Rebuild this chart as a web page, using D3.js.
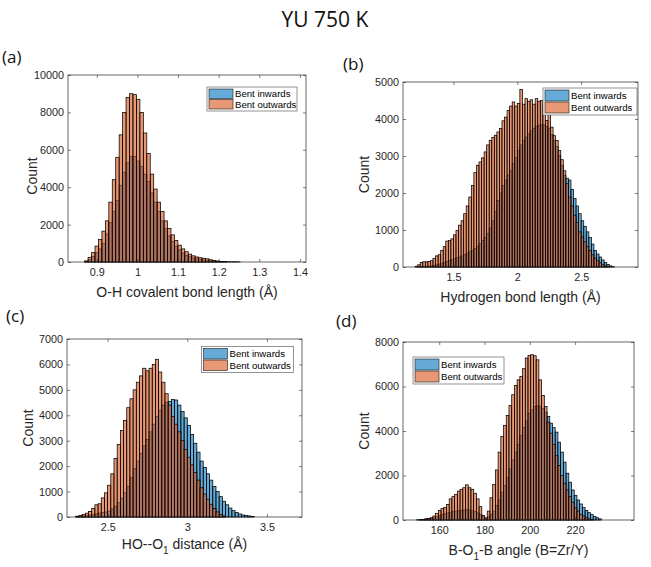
<!DOCTYPE html>
<html><head><meta charset="utf-8">
<script src="https://cdn.jsdelivr.net/npm/d3@7"></script>
<style>html,body{margin:0;padding:0;background:#fff}svg{display:block}</style>
</head><body>
<svg id="chart" width="651" height="567"></svg>
<script>
// ---------------- DATA ----------------
const seriesNames = ["Bent inwards", "Bent outwards"];
const chartTitle = "YU 750 K";

// (a) O-H covalent bond length
const aBinStart = 0.87, aBinWidth = 0.0085;
const aInwards = [30,120,300,500,700,1000,1500,2100,2700,3300,4100,4800,5300,5650,5650,5400,5100,4700,4300,3700,3200,2700,2200,1800,1400,1100,850,650,480,360,280,220,170,140,110,90,70,50,40,30,25,20,15,15,10];
const aOutwards = [60,250,500,850,1200,1650,2200,3200,4400,5600,6800,8000,8800,9000,8950,8700,8000,6900,5800,4700,3900,3200,2700,2200,1800,1450,1150,900,700,550,420,330,270,230,200,170,120,80,50,30,20];
const aXTicks = [0.9,1,1.1,1.2,1.3,1.4];
const aYTicks = [0,2000,4000,6000,8000,10000];

// (b) Hydrogen bond length
const bBinStart = 1.20, bBinWidth = 0.02;
const bInwards = [0,5,10,10,15,20,30,40,60,80,100,120,150,180,200,230,250,270,300,340,380,420,450,500,560,630,720,800,900,1050,1250,1500,1800,2000,2200,2350,2480,2600,2800,2950,3150,3300,3420,3510,3600,3680,3750,3800,3830,3850,3840,3800,3740,3580,3420,3250,3020,2750,2480,2400,2350,2100,1850,1650,1440,1250,1100,950,800,620,450,350,270,190,120,70,30,10];
const bOutwards = [20,60,120,140,140,150,170,230,300,330,450,550,700,720,760,870,990,1130,1250,1440,1650,1890,2200,2550,2750,2840,2950,3110,3300,3420,3500,3560,3650,3740,3950,4050,4230,4350,4460,4350,4420,4800,4400,4550,4480,4520,4400,4550,4480,4500,4370,3960,4150,3780,3550,3420,3150,2900,2600,2250,1890,1650,1400,1200,950,810,680,550,450,330,240,170,110,60,30,10];
const bXTicks = [1.5,2,2.5];
const bYTicks = [0,1000,2000,3000,4000,5000];

// (c) HO--O1 distance
const cBinStart = 2.30, cBinWidth = 0.02;
const cInwards = [20,30,40,60,80,100,120,150,180,200,230,320,420,560,740,950,1200,1550,1900,2200,2500,2800,3050,3350,3650,3950,4200,4400,4500,4550,4620,4600,4400,4150,3900,3600,3250,2900,2550,2200,1950,1700,1450,1200,1000,800,620,480,350,250,180,120,80,60,40,20];
const cOutwards = [30,60,100,150,220,330,480,520,750,950,1250,1700,2300,2850,3400,3800,4300,4650,5000,5300,5550,5850,5750,5850,6000,6200,5700,5300,4850,4400,3950,3650,3350,3000,2650,2350,2050,1750,1450,1150,900,700,500,330,200,100,40];
const cXTicks = [2.5,3,3.5];
const cYTicks = [0,1000,2000,3000,4000,5000,6000,7000];

// (d) B-O1-B angle
const dBinStart = 150.0, dBinWidth = 1.2;
const dInwards = [10,20,30,50,60,80,100,150,200,250,280,320,350,380,400,420,430,450,460,450,420,380,320,250,150,80,150,250,400,650,900,1250,1550,1900,2300,2700,3050,3400,3800,4150,4450,4800,4950,5100,5130,5100,5000,4850,4650,4350,4150,3950,3500,3050,2600,2100,1700,1350,1100,900,720,560,430,330,240,160,100,50];
const dOutwards = [0,10,20,40,60,100,180,300,430,520,560,700,950,1050,1150,1300,1380,1450,1580,1450,1380,1200,950,600,200,90,400,1000,1600,2250,3050,3750,4250,4700,5150,5630,6050,6300,6450,6800,7280,7400,7430,7380,7200,6300,5600,5100,4400,3900,3400,2900,2450,2000,1650,1350,1050,800,550,400,260,180,100,50,20];
const dXTicks = [160,180,200,220];
const dYTicks = [0,2000,4000,6000,8000];

// ---------------- LAYOUT / STYLE ----------------
const FONT = "'Liberation Sans', Arial, Helvetica, sans-serif";
const TAGFONT = "'Open Sans', 'Noto Sans', sans-serif";
const AX = "#262626";
const COLORS = ["#0072BD", "#D95319"];
const FACE_ALPHA = 0.6;

const panels = [
  {tag:"(a)", tagPos:[2,63], box:[68,75,306,262], xDomain:[0.829,1.415], yMax:10000,
   start:aBinStart, width:aBinWidth, series:[aInwards,aOutwards], xTicks:aXTicks, yTicks:aYTicks,
   xLabel:[{t:"O-H covalent bond length (Å)"}], xLabelY:297, yLabelX:37, yLabelY:176,
   legend:[207,87,90,24]},
  {tag:"(b)", tagPos:[343,69.5], box:[403,82,638,267], xDomain:[1.105,2.945], yMax:5000,
   start:bBinStart, width:bBinWidth, series:[bInwards,bOutwards], xTicks:bXTicks, yTicks:bYTicks,
   xLabel:[{t:"Hydrogen bond length (Å)"}], xLabelY:302, yLabelX:369, yLabelY:174.5,
   legend:[543,88,94,27]},
  {tag:"(c)", tagPos:[6,321.5], box:[67,339,302,517], xDomain:[2.245,3.72], yMax:7000,
   start:cBinStart, width:cBinWidth, series:[cInwards,cOutwards], xTicks:cXTicks, yTicks:cYTicks,
   xLabel:[{t:"HO--O"},{t:"1",sub:true},{t:"  distance (Å)"}], xLabelY:549, yLabelX:33, yLabelY:428,
   legend:[201.5,346.5,92,26]},
  {tag:"(d)", tagPos:[336,326.5], box:[403,342,634,520], xDomain:[144,246], yMax:8000,
   start:dBinStart, width:dBinWidth, series:[dInwards,dOutwards], xTicks:dXTicks, yTicks:dYTicks,
   xLabel:[{t:"B-O"},{t:"1",sub:true},{t:"-B angle (B=Zr/Y)"}], xLabelY:555, yLabelX:369, yLabelY:431,
   legend:[413,357,91,27]}
];

const svg = d3.select("#chart");

svg.append("text").attr("x",325).attr("y",27).attr("text-anchor","middle")
  .attr("font-family",TAGFONT).attr("font-size",21).attr("fill","#111").text(chartTitle);

panels.forEach(p => {
  const [L,T,R,B] = p.box;
  const x = d3.scaleLinear().domain(p.xDomain).range([L,R]);
  const y = d3.scaleLinear().domain([0,p.yMax]).range([B,T]);
  const g = svg.append("g");

  // bars
  p.series.forEach((vals, si) => {
    g.append("g").selectAll("rect")
      .data(vals.map((v,i) => ({x0:p.start + i*p.width, x1:p.start + (i+1)*p.width, v})).filter(d => d.v > 0))
      .join("rect")
      .attr("x", d => x(d.x0))
      .attr("width", d => x(d.x1) - x(d.x0))
      .attr("y", d => y(d.v))
      .attr("height", d => y(0) - y(d.v))
      .attr("fill", COLORS[si]).attr("fill-opacity", FACE_ALPHA)
      .attr("stroke", "#000").attr("stroke-width", 0.75);
  });

  // axes
  const styleAxis = sel => {
    sel.select(".domain").remove();
    sel.selectAll("line").attr("stroke", AX).attr("stroke-width", 0.6);
    sel.selectAll("text").attr("font-family", FONT).attr("font-size", 10.8).attr("fill", AX);
  };
  g.append("g").attr("transform",`translate(0,${B})`)
    .call(d3.axisBottom(x).tickValues(p.xTicks).tickSize(-3).tickPadding(6).tickFormat(d => String(d))).call(styleAxis);
  g.append("g").attr("transform",`translate(0,${T})`)
    .call(d3.axisTop(x).tickValues(p.xTicks).tickSize(-3).tickFormat("")).call(styleAxis);
  g.append("g").attr("transform",`translate(${L},0)`)
    .call(d3.axisLeft(y).tickValues(p.yTicks).tickSize(-3).tickPadding(4).tickFormat(d => String(d))).call(styleAxis);
  g.append("g").attr("transform",`translate(${R},0)`)
    .call(d3.axisRight(y).tickValues(p.yTicks).tickSize(-3).tickFormat("")).call(styleAxis);

  g.append("rect").attr("x",L).attr("y",T).attr("width",R-L).attr("height",B-T)
    .attr("fill","none").attr("stroke",AX).attr("stroke-width",0.7);

  // labels
  const xl = g.append("text").attr("x",(L+R)/2).attr("y",p.xLabelY).attr("text-anchor","middle")
    .attr("font-family",FONT).attr("font-size",14).attr("fill",AX);
  p.xLabel.forEach((s,i) => {
    const ts = xl.append("tspan").text(s.t);
    if (s.sub) ts.attr("font-size",10).attr("dy",5);
    else if (i > 0 && p.xLabel[i-1].sub) ts.attr("dy",-5);
  });
  g.append("text").attr("transform",`translate(${p.yLabelX},${p.yLabelY}) rotate(-90)`)
    .attr("text-anchor","middle").attr("font-family",FONT).attr("font-size",14).attr("fill",AX).text("Count");

  g.append("text").attr("x",p.tagPos[0]).attr("y",p.tagPos[1]).attr("font-family",TAGFONT)
    .attr("font-size",17).attr("fill","#111").text(p.tag);

  // legend
  const [lx,ly,lw,lh] = p.legend;
  const lg = g.append("g");
  lg.append("rect").attr("x",lx).attr("y",ly).attr("width",lw).attr("height",lh)
    .attr("fill","#fff").attr("stroke","#666").attr("stroke-width",0.7);
  const rowH = (lh - 3) / 2;
  seriesNames.forEach((name,i) => {
    const ry = ly + 1.5 + i*rowH;
    lg.append("rect").attr("x",lx+2).attr("y",ry+0.5).attr("width",24).attr("height",rowH-1)
      .attr("fill",COLORS[i]).attr("fill-opacity",FACE_ALPHA).attr("stroke","#1a1a1a").attr("stroke-width",0.6);
    lg.append("text").attr("x",lx+28).attr("y",ry+rowH/2+3.4).attr("font-family",FONT)
      .attr("font-size",9.6).attr("fill","#000").text(name);
  });
});
</script>
</body></html>
